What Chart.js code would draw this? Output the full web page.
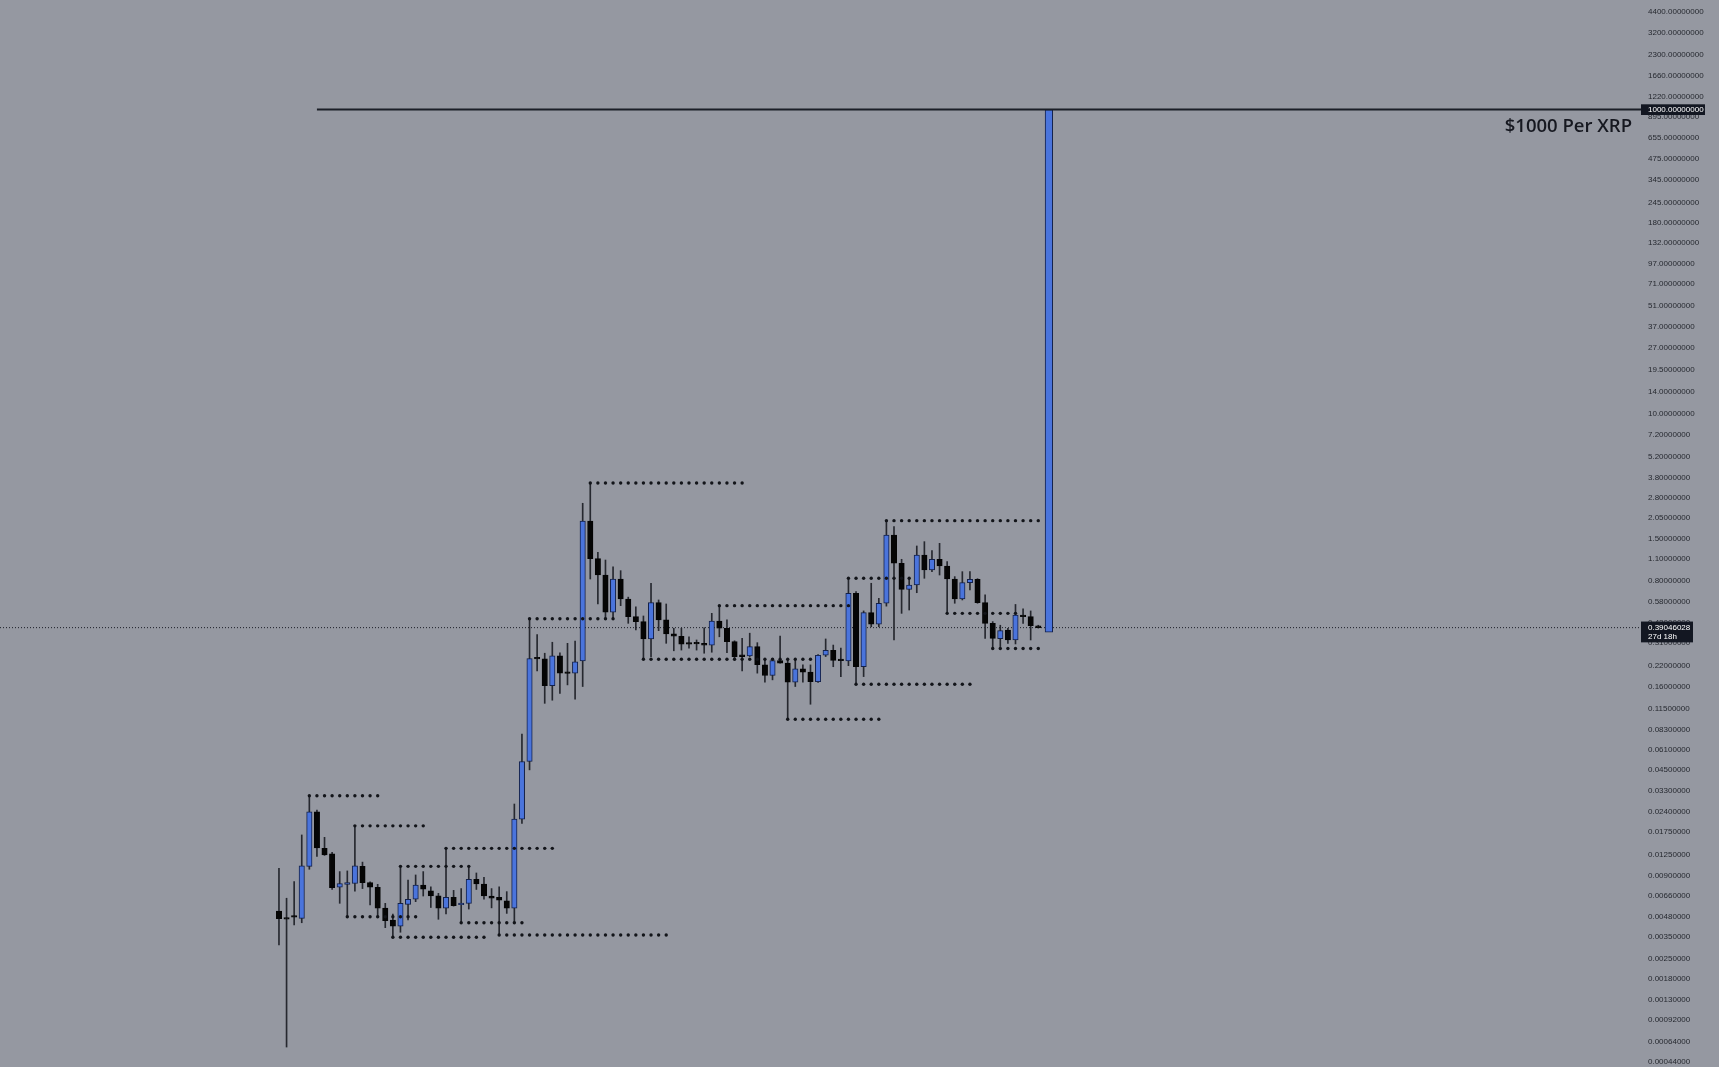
<!DOCTYPE html>
<html>
<head>
<meta charset="utf-8">
<title>XRP monthly - $1000 Per XRP</title>
<script src="https://cdn.jsdelivr.net/npm/chart.js@4/dist/chart.umd.min.js"></script>
<style>
  html, body { margin: 0; padding: 0; background: #9598a1; overflow: hidden; }
  #wrap { width: 1719px; height: 1067px; position: relative; }
</style>
</head>
<body>
<div id="wrap"><canvas id="chart"></canvas></div>
<script>
// XRP monthly candles, Aug 2014 (index 0) .. Dec 2022 (index 100)
const OPEN = [
  0.00524, 0.00465, 0.00478, 0.00468, 0.0104, 0.0239, 0.0137, 0.0126, 0.00756, 0.0079,
  0.0080, 0.0104, 0.0081, 0.00755, 0.00548, 0.00456, 0.00415, 0.00581, 0.00628, 0.00782,
  0.00716, 0.00662, 0.00547, 0.00647, 0.00577, 0.0059, 0.00854, 0.00794, 0.0066, 0.00647,
  0.00613, 0.00547, 0.0214, 0.0513, 0.2445, 0.243, 0.162, 0.255, 0.196, 0.196,
  0.236, 1.966, 1.110, 0.867, 0.493, 0.816, 0.603, 0.461, 0.428, 0.329,
  0.570, 0.439, 0.355, 0.343, 0.306, 0.306, 0.304, 0.300, 0.432, 0.387,
  0.316, 0.253, 0.254, 0.293, 0.222, 0.189, 0.237, 0.228, 0.171, 0.209,
  0.199, 0.172, 0.257, 0.277, 0.238, 0.236, 0.657, 0.216, 0.490, 0.411,
  0.565, 1.590, 1.036, 0.698, 0.745, 1.174, 0.935, 1.100, 0.994, 0.816,
  0.603, 0.772, 0.812, 0.570, 0.417, 0.330, 0.377, 0.324, 0.473, 0.461,
  0.402
];
const HIGH = [
  0.0101, 0.00638, 0.00823, 0.0168, 0.0305, 0.0245, 0.0162, 0.0129, 0.0096, 0.0097,
  0.0193, 0.0111, 0.0082, 0.0079, 0.0059, 0.0050, 0.0104, 0.00844, 0.00912, 0.0096,
  0.0076, 0.00688, 0.0137, 0.0072, 0.0074, 0.0104, 0.0094, 0.0088, 0.0074, 0.0076,
  0.00706, 0.0269, 0.0777, 0.447, 0.352, 0.265, 0.313, 0.267, 0.308, 0.319,
  2.57, 3.496, 1.223, 1.088, 0.983, 0.926, 0.62, 0.536, 0.466, 0.765,
  0.594, 0.559, 0.387, 0.387, 0.340, 0.324, 0.390, 0.485, 0.545, 0.439,
  0.320, 0.332, 0.359, 0.311, 0.239, 0.2455, 0.344, 0.239, 0.239, 0.222,
  0.222, 0.26, 0.329, 0.300, 0.286, 0.825, 0.674, 0.503, 0.765, 0.609,
  1.976, 1.804, 1.100, 0.833, 1.346, 1.437, 1.253, 1.401, 1.061, 0.846,
  0.912, 0.912, 0.82, 0.641, 0.428, 0.405, 0.387, 0.555, 0.52, 0.503,
  0.405
];
const LOW = [
  0.00309, 0.00058, 0.00422, 0.00437, 0.00995, 0.0121, 0.0123, 0.0073, 0.0059, 0.0048,
  0.0071, 0.0074, 0.00575, 0.0048, 0.00405, 0.00349, 0.00377, 0.00456, 0.00605, 0.0066,
  0.00553, 0.00461, 0.0050, 0.00565, 0.00437, 0.0054, 0.0073, 0.0063, 0.0055, 0.00361,
  0.00505, 0.00437, 0.0200, 0.0452, 0.203, 0.124, 0.130, 0.144, 0.164, 0.132,
  0.160, 0.816, 0.559, 0.447, 0.447, 0.545, 0.417, 0.377, 0.242, 0.252,
  0.373, 0.308, 0.275, 0.278, 0.286, 0.278, 0.265, 0.269, 0.340, 0.267,
  0.239, 0.203, 0.252, 0.196, 0.171, 0.177, 0.228, 0.0974, 0.160, 0.171,
  0.1223, 0.17, 0.252, 0.216, 0.186, 0.2195, 0.1656, 0.186, 0.396, 0.396,
  0.541, 0.324, 0.485, 0.510, 0.663, 0.825, 0.912, 0.867, 0.485, 0.565,
  0.594, 0.691, 0.565, 0.332, 0.285, 0.293, 0.308, 0.305, 0.417, 0.324,
  0.388
];
const CLOSE = [
  0.00465, 0.00461, 0.00476, 0.0105, 0.0239, 0.0138, 0.0124, 0.0075, 0.0080, 0.0081,
  0.0105, 0.0081, 0.00755, 0.00547, 0.00451, 0.00415, 0.0059, 0.00628, 0.00782, 0.00732,
  0.00662, 0.00547, 0.00647, 0.00569, 0.0059, 0.00854, 0.00794, 0.0066, 0.00638, 0.0062,
  0.00547, 0.0214, 0.0513, 0.2445, 0.243, 0.162, 0.255, 0.196, 0.195, 0.233,
  1.966, 1.110, 0.867, 0.493, 0.816, 0.603, 0.461, 0.428, 0.329, 0.570,
  0.439, 0.355, 0.343, 0.304, 0.304, 0.305, 0.300, 0.432, 0.387, 0.316,
  0.252, 0.252, 0.293, 0.223, 0.189, 0.237, 0.228, 0.171, 0.209, 0.199,
  0.172, 0.257, 0.277, 0.238, 0.237, 0.657, 0.216, 0.490, 0.411, 0.565,
  1.590, 1.036, 0.698, 0.745, 1.174, 0.935, 1.100, 0.994, 0.816, 0.603,
  0.772, 0.812, 0.570, 0.417, 0.332, 0.373, 0.324, 0.473, 0.461, 0.402,
  0.390
];

// pivot high / low levels (dotted): first candle, last candle, price
const PIVOT_FROM  = [4, 10, 9, 15, 16, 22, 24, 29, 33, 41, 48, 58, 67, 75, 76, 80, 88, 94];
const PIVOT_TO    = [13, 19, 18, 27, 25, 36, 32, 51, 44, 61, 70, 75, 79, 83, 91, 100, 97, 100];
const PIVOT_LEVEL = [0.0305, 0.0193, 0.0048, 0.00349, 0.0104, 0.0137, 0.00437, 0.00361, 0.447,
                     3.496, 0.242, 0.545, 0.0974, 0.825, 0.1656, 1.976, 0.485, 0.285];

const TARGET = 1000;
const TARGET_FROM = 5;
const CAPTION = '$1000 Per XRP';
const LAST_PRICE = 0.39046028;
const COUNTDOWN = '27d 18h';
const PROJECTION_X = 101.4;
const PROJECTION = [0.365, 1000];

const PRICE_TICKS = [4400, 3200, 2300, 1660, 1220, 895, 655, 475, 345, 245, 180, 132, 97, 71, 51, 37, 27,
  19.5, 14, 10, 7.2, 5.2, 3.8, 2.8, 2.05, 1.5, 1.1, 0.8, 0.58, 0.42, 0.31, 0.22, 0.16, 0.115, 0.083,
  0.061, 0.045, 0.033, 0.024, 0.0175, 0.0125, 0.009, 0.0066, 0.0048, 0.0035, 0.0025, 0.0018, 0.0013,
  0.00092, 0.00064, 0.00044];

const X_MIN = -36.74, X_MAX = 179.38;
const Y_MIN = 0.0004026, Y_MAX = 5261;

const BLUE = '#4a74dc', BLUE_EDGE = '#14214a', BLACK = '#050505', INK = '#161820';
const FONT = '"Liberation Sans", Arial, sans-serif';

// TradingView style log scale: log10(price + 0.0001)
const SHIFT = 0.0001;
class ShiftLogScale extends Chart.LogarithmicScale {
  static id = 'shiftlog';
  static defaults = Chart.LogarithmicScale.defaults;
  configure() {
    super.configure();
    this._startValue = Math.log10(this.min + SHIFT);
    this._valueRange = Math.log10(this.max + SHIFT) - this._startValue;
  }
  getPixelForValue(value) {
    if (value === undefined || value === 0) value = this.min;
    if (value === null || isNaN(value)) return NaN;
    return this.getPixelForDecimal((Math.log10(value + SHIFT) - this._startValue) / this._valueRange);
  }
  getValueForPixel(pixel) {
    return Math.pow(10, this._startValue + this.getDecimalForPixel(pixel) * this._valueRange) - SHIFT;
  }
}
Chart.register(ShiftLogScale);

const isUp = (i) => CLOSE[i] > OPEN[i];
const wicks = LOW.map((l, i) => ({ x: i, y: [l, HIGH[i]] }));
const bodies = OPEN.map((o, i) => ({ x: i, y: [Math.min(o, CLOSE[i]), Math.max(o, CLOSE[i])] }));

const pivotPoints = [];
PIVOT_LEVEL.forEach((level, k) => {
  for (let i = PIVOT_FROM[k]; i <= PIVOT_TO[k]; i++) pivotPoints.push({ x: i, y: level });
});

const overlay = {
  id: 'overlay',
  afterDraw(chart) {
    const { ctx, chartArea, scales: { y } } = chart;
    const left = chartArea.right;
    ctx.save();
    ctx.font = '8px ' + FONT;
    ctx.textBaseline = 'middle';

    const ty = y.getPixelForValue(TARGET);
    ctx.fillStyle = '#131722';
    ctx.fillRect(left, ty - 5.3, 64, 10.7);
    ctx.fillStyle = '#ffffff';
    ctx.fillText(TARGET.toFixed(8), left + 7, ty + 0.5);

    const py = y.getPixelForValue(LAST_PRICE);
    ctx.fillStyle = '#131722';
    ctx.fillRect(left, py - 6.1, 52, 20.8);
    ctx.fillStyle = '#ffffff';
    ctx.fillText(LAST_PRICE.toFixed(8), left + 7, py + 0.5);
    ctx.fillText(COUNTDOWN, left + 7, py + 9.5);

    ctx.font = '600 18.5px "Open Sans", sans-serif';
    ctx.textAlign = 'right';
    ctx.fillStyle = INK;
    ctx.fillText(CAPTION, left - 9, ty + 17.5);
    ctx.restore();
  }
};

new Chart(document.getElementById('chart'), {
  type: 'bar',
  data: {
    datasets: [
      {
        type: 'line', label: 'target', order: 0,
        data: [{ x: TARGET_FROM, y: TARGET }, { x: X_MAX, y: TARGET }],
        borderColor: '#1b1e27', borderWidth: 2, pointRadius: 0
      },
      {
        type: 'line', label: 'pivots', order: 0, showLine: false,
        data: pivotPoints,
        pointRadius: 1.7, pointBorderWidth: 0, pointBackgroundColor: '#121419'
      },
      {
        label: 'projection', order: 1, grouped: false,
        data: [{ x: PROJECTION_X, y: PROJECTION }],
        barThickness: 7.6, borderWidth: 1, borderSkipped: false,
        backgroundColor: BLUE, borderColor: BLUE_EDGE
      },
      {
        label: 'body', order: 1, grouped: false,
        data: bodies,
        barThickness: 5.4, borderWidth: 1, borderSkipped: false, minBarLength: 1.6,
        backgroundColor: (c) => isUp(c.dataIndex) ? BLUE : BLACK,
        borderColor: (c) => isUp(c.dataIndex) ? BLUE_EDGE : BLACK
      },
      {
        label: 'wick', order: 2, grouped: false,
        data: wicks,
        barThickness: 1, borderWidth: 0, backgroundColor: '#26282f'
      },
      {
        type: 'line', label: 'last', order: 3,
        data: [{ x: X_MIN, y: LAST_PRICE }, { x: X_MAX, y: LAST_PRICE }],
        borderColor: '#1b1e27', borderWidth: 1, borderDash: [1, 2], pointRadius: 0
      }
    ]
  },
  options: {
    responsive: true,
    maintainAspectRatio: false,
    animation: false,
    devicePixelRatio: 1,
    events: [],
    layout: { padding: 0, autoPadding: false },
    plugins: { legend: { display: false }, tooltip: { enabled: false } },
    scales: {
      x: { type: 'linear', min: X_MIN, max: X_MAX, offset: false, display: false },
      y: {
        type: 'shiftlog', position: 'right', min: Y_MIN, max: Y_MAX, bounds: 'data',
        grid: { display: false, drawTicks: false },
        border: { display: false },
        ticks: {
          autoSkip: false, padding: 7, color: '#262930',
          font: { size: 8, family: FONT },
          callback: (v) => Number(v).toFixed(8)
        },
        afterBuildTicks: (s) => { s.ticks = PRICE_TICKS.map((v) => ({ value: v })); },
        afterFit: (s) => { s.width = 78; s.paddingTop = 0; s.paddingBottom = 0; }
      }
    }
  },
  plugins: [overlay]
});
</script>
</body>
</html>
